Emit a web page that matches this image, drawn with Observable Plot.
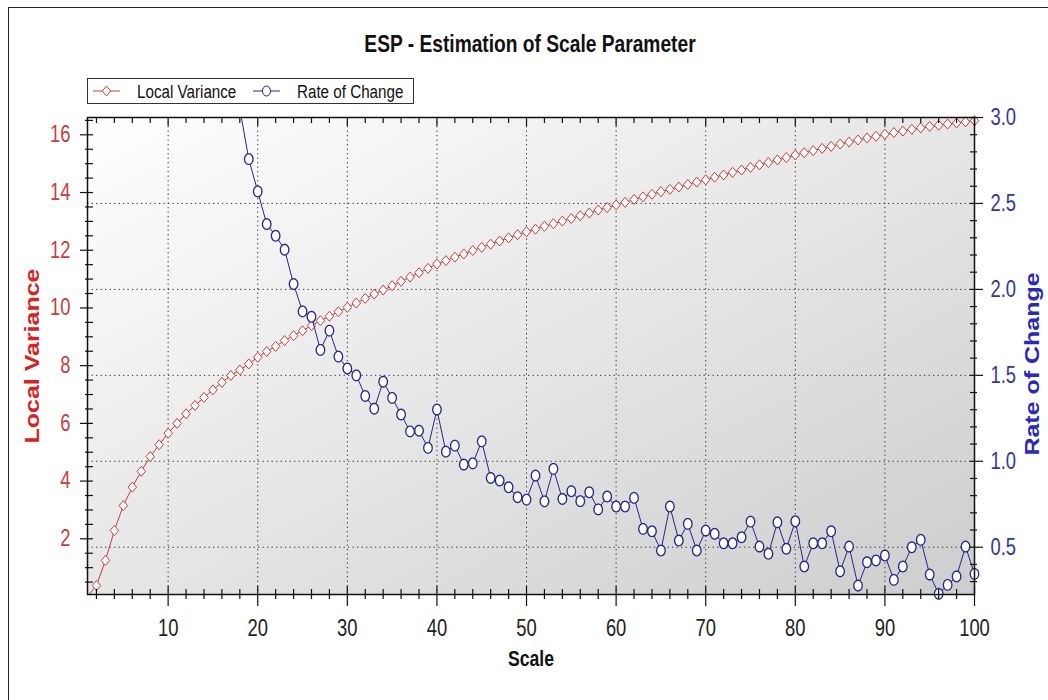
<!DOCTYPE html>
<html>
<head>
<meta charset="utf-8">
<script src="https://cdn.jsdelivr.net/npm/d3@7"></script>
<script src="https://cdn.jsdelivr.net/npm/@observablehq/plot@0.6"></script>
<style>
  body { margin: 0; background: #fff; }
  #wrap { position: relative; width: 1048px; height: 700px; overflow: hidden; background: #fff;
          font-family: "Liberation Sans", Arial, sans-serif; }
  #border { position: absolute; left: 8px; top: 7px; width: 1060px; height: 720px; border-left: 1.5px solid #222; border-top: 1.5px solid #222; }
  #chart { position: absolute; left: 0; top: 0; }
  #overlay { position: absolute; left: 0; top: 0; }
</style>
</head>
<body>
<div id="wrap">
  <div id="border"></div>
  <div id="chart"></div>
  <svg id="overlay" width="1048" height="120"></svg>
</div>
<script>
// ---------- data ----------
const chartTitle = "ESP - Estimation of Scale Parameter";
const seriesNames = ["Local Variance", "Rate of Change"];
const xTitle = "Scale";
const scaleValues = [1,2,3,4,5,6,7,8,9,10,11,12,13,14,15,16,17,18,19,20,21,22,23,24,25,26,27,28,29,30,
  31,32,33,34,35,36,37,38,39,40,41,42,43,44,45,46,47,48,49,50,51,52,53,54,55,56,57,58,59,60,
  61,62,63,64,65,66,67,68,69,70,71,72,73,74,75,76,77,78,79,80,81,82,83,84,85,86,87,88,89,90,
  91,92,93,94,95,96,97,98,99,100];
const localVariance = [0.0,0.38,1.25,2.29,3.15,3.79,4.34,4.85,5.26,5.66,6.00,6.33,6.62,6.90,7.16,7.42,7.66,7.85,8.06,8.29,
  8.49,8.67,8.87,9.04,9.21,9.39,9.56,9.71,9.87,10.02,10.17,10.33,10.48,10.62,10.77,10.92,11.07,11.22,11.37,11.52,
  11.64,11.76,11.87,11.99,12.10,12.21,12.32,12.43,12.54,12.64,12.73,12.83,12.92,13.01,13.10,13.20,13.29,13.39,13.48,13.57,
  13.66,13.76,13.85,13.94,14.03,14.11,14.19,14.28,14.36,14.44,14.53,14.61,14.70,14.78,14.87,14.96,15.04,15.13,15.21,15.30,
  15.38,15.45,15.53,15.60,15.68,15.75,15.82,15.89,15.95,16.02,16.08,16.13,16.19,16.24,16.29,16.33,16.37,16.41,16.45,16.49];
const rateScales = [18,19,20,21,22,23,24,25,26,27,28,29,30,31,32,33,34,35,36,37,38,39,40,
  41,42,43,44,45,46,47,48,49,50,51,52,53,54,55,56,57,58,59,60,61,62,63,64,65,66,67,68,69,70,
  71,72,73,74,75,76,77,78,79,80,81,82,83,84,85,86,87,88,89,90,91,92,93,94,95,96,97,98,99,100];
const rateOfChange = [3.05,2.758,2.570,2.380,2.312,2.231,2.031,1.872,1.841,1.648,1.760,1.609,1.540,1.500,1.380,1.306,1.463,1.369,1.272,1.174,1.178,1.078,1.301,
  1.056,1.091,0.981,0.988,1.116,0.903,0.888,0.849,0.791,0.777,0.917,0.767,0.956,0.781,0.826,0.768,0.820,0.720,0.795,0.737,0.737,0.787,0.607,0.593,0.481,0.737,0.539,0.636,0.481,0.597,
  0.578,0.523,0.523,0.558,0.649,0.504,0.462,0.645,0.491,0.651,0.388,0.523,0.523,0.593,0.360,0.504,0.277,0.413,0.423,0.452,0.310,0.388,0.500,0.543,0.341,0.229,0.281,0.330,0.504,0.345];

const leftDomain = [0.07, 16.6];
const rightDomain = [0.225, 3.0];
const xDomain = [1, 100];
const xMajor = [10,20,30,40,50,60,70,80,90,100];
const xGrid = [10,20,30,40,50,60,70,80,90];
const xMinor = [2,4,6,8,12,14,16,18,22,24,26,28,32,34,36,38,42,44,46,48,52,54,56,58,62,64,66,68,72,74,76,78,82,84,86,88,92,94,96,98];
const leftMajor = [2,4,6,8,10,12,14,16];
const leftMinor = [0.5,1,1.5,2.5,3,3.5,4.5,5,5.5,6.5,7,7.5,8.5,9,9.5,10.5,11,11.5,12.5,13,13.5,14.5,15,15.5,16.5];
const rightMajor = [0.5,1.0,1.5,2.0,2.5,3.0];
const rightGrid = [0.5,1.0,1.5,2.0,2.5];
const rightMinor = [0.3,0.4,0.6,0.7,0.8,0.9,1.1,1.2,1.3,1.4,1.6,1.7,1.8,1.9,2.1,2.2,2.3,2.4,2.6,2.7,2.8,2.9];

// ---------- styles ----------
const RED = "#c43c3c", RED_TXT = "#cc3b3b", RED_LBL = "#d42424";
const BLUE = "#24248c", BLUE_TXT = "#35359a", BLUE_LBL = "#2a2ab4";
const FONT = '"Liberation Sans", Arial, sans-serif';
const SQ = 0.8; // horizontal squeeze of the reference's lettering

const toLeft = r => leftDomain[0] + (r - rightDomain[0]) / (rightDomain[1] - rightDomain[0]) * (leftDomain[1] - leftDomain[0]);
const toRight = v => rightDomain[0] + (v - leftDomain[0]) / (leftDomain[1] - leftDomain[0]) * (rightDomain[1] - rightDomain[0]);

const lvData = scaleValues.map((s, i) => ({scale: s, value: localVariance[i]}));
const rcData = rateScales.map((s, i) => ({scale: s, rate: rateOfChange[i]}));

// oval and diamond symbols (markers look slightly taller than wide in the reference)
const ovalSymbol = {draw(ctx, size) {
  const r = Math.sqrt(size / Math.PI), rx = r * 0.8, ry = r, n = 32;
  for (let i = 0; i < n; i++) {
    const a = 2 * Math.PI * i / n, x = rx * Math.cos(a), y = ry * Math.sin(a);
    i ? ctx.lineTo(x, y) : ctx.moveTo(x, y);
  }
  ctx.closePath();
}};
const diamondSymbol = {draw(ctx, size) {
  const r = Math.sqrt(size / Math.PI);
  ctx.moveTo(0, -r); ctx.lineTo(r * 0.85, 0); ctx.lineTo(0, r); ctx.lineTo(-r * 0.85, 0); ctx.closePath();
}};

const defsMark = () => {
  const defs = d3.create("svg:defs");
  const g = defs.append("linearGradient").attr("id", "bgGrad")
    .attr("x1", "0").attr("y1", "0").attr("x2", "1").attr("y2", "1");
  g.append("stop").attr("offset", "0%").attr("stop-color", "#ffffff");
  g.append("stop").attr("offset", "100%").attr("stop-color", "#cdcdcd");
  return defs.node();
};

const tickStroke = {fill: "none", stroke: "#111", strokeWidth: 1.2, label: null};
const gridStyle = {stroke: "#333", strokeOpacity: 1, strokeWidth: 1, strokeDasharray: "1.3,3.2"};

const chart = Plot.plot({
  width: 1048, height: 700,
  marginLeft: 87, marginRight: 74, marginTop: 117, marginBottom: 106,
  x: {domain: xDomain, label: null},
  y: {domain: leftDomain, label: null},
  style: {background: "transparent", fontFamily: FONT, overflow: "visible"},
  marks: [
    defsMark,
    Plot.frame({fill: "url(#bgGrad)", stroke: "none"}),
    Plot.gridX(xGrid, gridStyle),
    Plot.gridY(rightGrid.map(toLeft), gridStyle),
    Plot.line(lvData, {x: "scale", y: "value", stroke: RED, strokeWidth: 1, clip: true}),
    Plot.dot(lvData, {filter: d => d.value >= leftDomain[0] && d.value <= leftDomain[1],
      x: "scale", y: "value", symbol: diamondSymbol, r: 5, stroke: RED, fill: "white", strokeWidth: 1}),
    Plot.line(rcData, {x: "scale", y: d => toLeft(d.rate), stroke: BLUE, strokeWidth: 1, clip: true}),
    Plot.dot(rcData, {filter: d => d.rate >= rightDomain[0] && d.rate <= rightDomain[1],
      x: "scale", y: d => toLeft(d.rate), symbol: ovalSymbol, r: 5.3, stroke: BLUE, fill: "white", strokeWidth: 1.3}),
    // tick marks
    Plot.axisY(leftMajor, {anchor: "left", tickSize: 13, dx: 6, ...tickStroke}),
    Plot.axisY(leftMinor, {anchor: "left", tickSize: 8, dx: 6, ...tickStroke}),
    Plot.axisY(rightMajor.map(toLeft), {anchor: "right", tickSize: 13, dx: -5, ...tickStroke}),
    Plot.axisY(rightMinor.map(toLeft), {anchor: "right", tickSize: 7, dx: -5, ...tickStroke}),
    Plot.axisX(xMajor, {anchor: "bottom", tickSize: 20, dy: -8, ...tickStroke}),
    Plot.axisX(xMinor, {anchor: "bottom", tickSize: 10, dy: -5, ...tickStroke}),
    Plot.axisX(xMajor, {anchor: "top", tickSize: 8, dy: 8, ...tickStroke}),
    Plot.axisX(xMinor, {anchor: "top", tickSize: 5, dy: 5, ...tickStroke}),
    // tick labels
    Plot.axisY(leftMajor, {anchor: "left", tickSize: 0, tickPadding: 17, fontSize: 23, fill: RED_TXT, label: null}),
    Plot.axisY(rightMajor.map(toLeft), {anchor: "right", tickSize: 0, tickPadding: 16, fontSize: 23, fill: BLUE_TXT,
      tickFormat: v => toRight(v).toFixed(1), label: null}),
    Plot.axisX(xMajor, {anchor: "bottom", tickSize: 0, tickPadding: 25, fontSize: 23, fill: "#222", label: null}),
    Plot.frame({stroke: "#111", strokeWidth: 1.5}),
    // axis titles
    Plot.text([seriesNames[0]], {frameAnchor: "left", dx: -55, rotate: -90, text: d => d, textAnchor: "middle",
      fontSize: 25, fontWeight: "bold", fill: RED_LBL}),
    Plot.text([seriesNames[1]], {frameAnchor: "right", dx: 58, dy: 8, rotate: -90, text: d => d, textAnchor: "middle",
      fontSize: 25, fontWeight: "bold", fill: BLUE_LBL}),
    Plot.text([xTitle], {frameAnchor: "bottom", dy: 71, text: d => d, textAnchor: "middle",
      fontSize: 22, fontWeight: "bold", fill: "#111"})
  ]
});
document.getElementById("chart").appendChild(chart);

// squeeze lettering horizontally, as in the reference
function squeeze(root) {
  root.querySelectorAll("text").forEach(el => {
    const t = el.getAttribute("transform");
    const rotated = t && /rotate\(\s*-?90/.test(t);
    const s = rotated ? `scale(1,${SQ})` : `scale(${SQ},1)`;
    if (t) {
      el.setAttribute("transform", `${t} ${s}`);
    } else {
      const x = parseFloat(el.getAttribute("x")) || 0, y = parseFloat(el.getAttribute("y")) || 0;
      el.setAttribute("transform", `translate(${x},${y}) ${s} translate(${-x},${-y})`);
    }
  });
}
squeeze(chart);

// ---------- title + legend ----------
const ov = d3.select("#overlay");
ov.append("text").attr("x", 530).attr("y", 52).attr("text-anchor", "middle")
  .attr("font-size", 24).attr("font-weight", "bold").attr("fill", "#111").attr("font-family", FONT)
  .text(chartTitle);
const lg = ov.append("g").attr("transform", "translate(87,78)");
lg.append("rect").attr("x", 0.5).attr("y", 0.5).attr("width", 326).attr("height", 25)
  .attr("fill", "#fff").attr("stroke", "#333").attr("stroke-width", 1);
const items = [
  {name: seriesNames[0], color: RED, sym: "diamond", x0: 6},
  {name: seriesNames[1], color: BLUE, sym: "circle", x0: 166}
];
for (const it of items) {
  lg.append("line").attr("x1", it.x0).attr("x2", it.x0 + 27).attr("y1", 13).attr("y2", 13)
    .attr("stroke", it.color).attr("stroke-width", 1);
  const cx = it.x0 + 13.5;
  if (it.sym === "diamond") {
    lg.append("path").attr("d", `M${cx},${13-5}L${cx+4.2},13L${cx},${13+5}L${cx-4.2},13Z`)
      .attr("fill", "#fff").attr("stroke", it.color);
  } else {
    lg.append("ellipse").attr("cx", cx).attr("cy", 13).attr("rx", 4).attr("ry", 5).attr("fill", "#fff").attr("stroke", it.color);
  }
  lg.append("text").attr("x", it.x0 + 44).attr("y", 13).attr("dy", "0.36em")
    .attr("font-size", 19).attr("fill", "#111").attr("font-family", FONT).text(it.name);
}
squeeze(document.getElementById("overlay"));
</script>
</body>
</html>
